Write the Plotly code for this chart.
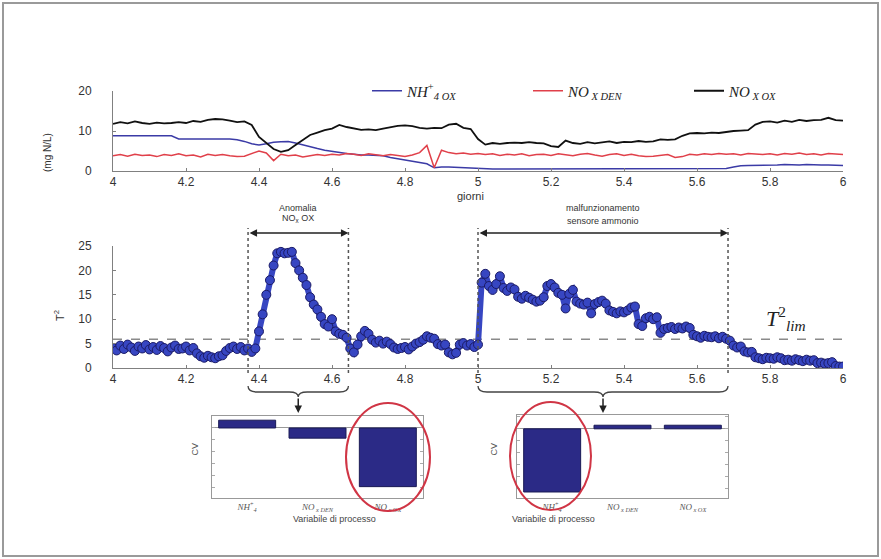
import plotly.graph_objects as go

W, H = 881, 559


def px(x):
    return x / W


def py(y):
    return 1 - y / H


# ---------------- data ----------------
DAYS = [round(4 + 0.02 * i, 2) for i in range(101)]

NOX_OX = [11.8, 12.2, 11.9, 12.4, 12.0, 11.8, 12.1, 11.9, 12.0, 12.2,
          12.0, 12.5, 12.3, 12.8, 13.0, 12.9, 12.6, 12.2, 12.4, 11.5,
          8.5, 7.0, 5.5, 4.8, 5.2, 6.5, 7.8, 9.0, 9.6, 10.2,
          10.6, 11.5, 11.0, 10.6, 10.3, 10.4, 10.2, 10.6, 11.0, 11.3,
          11.4, 11.2, 10.8, 10.6, 10.8, 10.7, 11.6, 11.8, 10.8, 10.5,
          8.0, 6.6, 7.0, 6.8, 7.0, 7.1, 7.0, 7.2, 7.0, 6.9,
          6.2, 6.0, 7.6, 7.0, 6.8, 7.2, 6.9, 7.1, 7.4, 7.0,
          7.3, 7.2, 7.5, 7.3, 7.4, 7.9, 7.8, 7.9, 8.8, 9.4,
          9.5, 9.4, 9.6, 9.5, 9.8, 10.0, 10.1, 10.2, 11.6, 12.3,
          12.4, 12.1, 12.6, 12.3, 12.8, 12.5, 12.7, 12.8, 13.3, 12.7,
          12.6]

NH4_OX = [8.8, 8.8, 8.8, 8.8, 8.8, 8.8, 8.8, 8.8, 8.8, 8.0,
          8.0, 8.0, 8.0, 8.0, 8.0, 8.0, 8.0, 7.8, 7.4, 6.8,
          6.5, 6.8, 7.2, 7.3, 7.4, 7.0, 6.5, 6.0, 5.6, 5.2,
          4.9, 4.7, 4.4, 4.2, 4.0, 4.0, 3.9, 3.8, 3.4, 3.1,
          2.8, 2.5, 2.2, 1.8, 0.8, 1.0, 1.0, 0.9, 0.8, 0.7,
          0.6, 0.6, 0.5, 0.5, 0.5, 0.5, 0.5, 0.5, 0.5, 0.5,
          0.5, 0.5, 0.5, 0.5, 0.5, 0.5, 0.5, 0.5, 0.5, 0.5,
          0.5, 0.5, 0.5, 0.5, 0.5, 0.5, 0.5, 0.5, 0.5, 0.5,
          0.5, 0.5, 0.5, 0.5, 0.6, 1.0, 1.3, 1.4, 1.4, 1.5,
          1.5, 1.5, 1.6, 1.5, 1.5, 1.6, 1.5, 1.5, 1.5, 1.4,
          1.4]

NOX_DEN = [3.8, 4.1, 3.7, 4.2, 3.9, 4.0, 3.6, 4.1, 3.9, 4.3,
           3.8, 4.0, 3.5, 4.2, 3.9, 4.1, 3.8, 3.6, 3.7, 4.3,
           5.0, 4.5, 2.6, 4.2, 3.8, 4.0, 3.5, 3.8, 4.1, 3.9,
           4.2, 4.0, 4.4, 4.2, 3.9, 4.3, 4.0, 3.8, 4.1, 3.9,
           3.6, 4.0, 4.6, 6.4, 0.8, 5.2, 4.6, 4.3, 4.5, 4.2,
           4.4, 4.1, 4.3, 3.9, 4.2, 4.0, 4.3, 3.8, 4.1, 4.2,
           3.9, 4.3, 4.0, 3.8, 4.2, 4.4, 4.0, 3.7, 4.1, 4.3,
           3.9, 4.2, 3.8, 3.6, 3.7, 3.9, 4.1, 3.4, 3.6, 4.2,
           4.0, 4.3, 4.1, 4.4, 4.2, 4.3, 4.0, 4.4, 4.2, 4.1,
           4.3, 4.0, 4.4, 4.2, 4.5, 4.1, 4.3, 4.0, 4.4, 4.2,
           4.1]

T2_DAYS = [round(4 + 0.01 * i, 2) for i in range(201)]
T2 = [4.1, 3.6, 4.6, 3.9, 4.8, 4.2, 3.5, 4.4, 4.0, 4.7, 3.8,
      4.3, 3.7, 4.5, 4.1, 3.4, 4.2, 4.6, 3.9, 4.0, 4.4, 3.6, 4.1,
      3.0, 2.4, 2.1, 2.5, 2.2, 2.0, 2.4, 2.6,
      3.5, 4.1, 4.4, 3.9, 4.3, 3.6, 4.0, 3.3,
      4.0, 7.5, 11.0, 15.0, 18.0, 21.0, 23.5, 23.8, 23.5, 23.6, 23.8,
      21.5, 20.0, 18.5, 17.0, 14.5, 13.0, 12.0, 10.5, 9.0, 8.5,
      10.0, 7.5, 7.0, 6.8, 6.2, 4.0, 3.2, 4.8, 6.5, 7.6, 7.0,
      5.8, 5.2, 5.6, 5.0, 5.4, 4.9,
      4.2, 3.9, 4.1, 4.3, 3.8, 4.4,
      5.0, 5.3, 5.8, 6.5, 6.2, 6.0,
      4.9, 4.6, 4.8, 3.2, 2.8, 3.1,
      4.8, 5.1, 4.6, 4.9, 4.3, 4.8,
      17.5, 19.3, 16.8, 16.0, 17.2, 18.8, 16.4, 15.8, 16.5, 16.1,
      14.6, 14.2, 14.8, 14.4, 14.0, 13.6, 13.8, 14.5, 16.8, 17.2,
      16.5, 15.4, 15.0, 12.2, 15.2, 16.0, 13.6, 13.2, 13.0, 13.4,
      11.2, 13.1, 13.5, 13.8, 13.2, 11.8, 11.5, 11.2, 11.6, 11.4,
      11.8, 12.4, 12.6, 9.0, 8.6, 10.2, 10.5, 10.0, 10.4, 7.2,
      8.0, 8.2, 8.4, 8.0, 8.3, 8.1, 8.5, 8.2, 6.8, 6.5,
      6.2, 6.6, 6.4, 6.3, 6.5, 6.1, 6.4, 6.0, 5.6, 4.6,
      4.2, 4.4, 3.4, 3.2, 3.3, 2.2, 2.0, 1.8, 2.1, 2.0,
      1.9, 2.2, 2.0, 1.6, 1.7, 1.5, 1.8, 1.6, 1.4, 1.7,
      1.5, 1.6, 1.0, 1.1, 0.9, 1.0, 1.2, 0.4, 0.3, 0.3]
T2_LIM = 5.9

X_TICKS = [4, 4.2, 4.4, 4.6, 4.8, 5, 5.2, 5.4, 5.6, 5.8, 6]
Y1_TICKS = [0, 10, 20]
Y2_TICKS = [0, 5, 10, 15, 20, 25]

ANOMALY_SPAN = [4.37, 4.645]
SENSOR_SPAN = [5.0, 5.685]

BAR_CATS = [0, 1, 2]
BAR_LABELS = ["<i>NH</i><sup>+</sup><sub><i>4</i></sub>",
              "<i>NO</i><sub><i> x DEN</i></sub>",
              "<i>NO</i><sub><i> x OX</i></sub>"]
CV_ANOMALY = [0.13, -0.17, -0.98]
CV_SENSOR = [-1.05, 0.06, 0.06]

# ---------------- figure ----------------
fig = go.Figure()

fig.add_trace(go.Scatter(x=DAYS, y=NH4_OX, mode="lines", xaxis="x", yaxis="y",
                         line=dict(color="#3b3ba6", width=1.5),
                         name="<i>NH</i><sup>+</sup><sub><i>4 OX</i></sub>"))
fig.add_trace(go.Scatter(x=DAYS, y=NOX_DEN, mode="lines", xaxis="x", yaxis="y",
                         line=dict(color="#e0404a", width=1.5),
                         name="<i>NO</i><sub><i> X DEN</i></sub>"))
fig.add_trace(go.Scatter(x=DAYS, y=NOX_OX, mode="lines", xaxis="x", yaxis="y",
                         line=dict(color="#111111", width=1.8),
                         name="<i>NO</i><sub><i> X OX</i></sub>"))

fig.add_trace(go.Scatter(x=T2_DAYS, y=T2, mode="lines+markers", xaxis="x2", yaxis="y2",
                         line=dict(color="#3746c2", width=6),
                         marker=dict(size=9, color="#3746c2",
                                     line=dict(color="#1b1b66", width=1)),
                         showlegend=False))

fig.add_trace(go.Bar(x=BAR_CATS, y=CV_ANOMALY, xaxis="x3", yaxis="y3", width=0.81,
                     marker=dict(color="#2b2a86", line=dict(color="#1a1a55", width=1)),
                     showlegend=False))
fig.add_trace(go.Bar(x=BAR_CATS, y=CV_SENSOR, xaxis="x4", yaxis="y4", width=0.81,
                     marker=dict(color="#2b2a86", line=dict(color="#1a1a55", width=1)),
                     showlegend=False))

axis_col = "#808080"
tick_font = dict(family="Arial", size=12, color="#333333")

common_x = dict(range=[4, 6], tickvals=X_TICKS, ticks="inside", ticklen=3,
                tickcolor=axis_col, showline=True, linecolor=axis_col, linewidth=1,
                showgrid=False, zeroline=False, tickfont=tick_font)
common_y = dict(ticks="inside", ticklen=3, tickcolor=axis_col, showline=True,
                linecolor=axis_col, linewidth=1, showgrid=False, zeroline=False,
                tickfont=tick_font, ticklabelstandoff=18)

bar_x = dict(range=[-0.5, 2.5], tickvals=BAR_CATS, ticktext=BAR_LABELS, ticks="",
             showline=True, mirror=True, linecolor="#999999", linewidth=1,
             showgrid=False, zeroline=False,
             tickfont=dict(family="Liberation Serif", size=9, color="#555555"))
bar_y = dict(showticklabels=False, ticks="inside", ticklen=3, tickcolor="#aaaaaa",
             dtick=0.2, showline=True, mirror="ticks", linecolor="#999999",
             linewidth=1, showgrid=False, zeroline=True, zerolinecolor="#999999",
             zerolinewidth=1)

fig.update_layout(
    width=W, height=H,
    margin=dict(l=0, r=0, t=0, b=0, autoexpand=False),
    paper_bgcolor="white", plot_bgcolor="white",
    xaxis=dict(domain=[px(113), px(843)], anchor="y", **common_x),
    yaxis=dict(domain=[py(171), py(91)], anchor="x", range=[0, 20],
               tickvals=Y1_TICKS, **common_y),
    xaxis2=dict(domain=[px(113), px(843)], anchor="y2", **common_x),
    yaxis2=dict(domain=[py(368), py(246)], anchor="x2", range=[0, 25],
                tickvals=Y2_TICKS, **common_y),
    xaxis3=dict(domain=[px(212), px(423)], anchor="y3", **bar_x),
    yaxis3=dict(domain=[py(498), py(416)], anchor="x3", range=[-1.17, 0.2], **bar_y),
    xaxis4=dict(domain=[px(517), px(728)], anchor="y4", **bar_x),
    yaxis4=dict(domain=[py(498), py(415)], anchor="x4", range=[-1.15, 0.23], **bar_y),
    showlegend=True,
    legend=dict(orientation="h", x=px(367), xanchor="left", y=py(91), yanchor="middle",
                entrywidth=116, entrywidthmode="pixels", bgcolor="rgba(0,0,0,0)",
                font=dict(family="Liberation Serif", size=15, color="#222222"),
                itemclick=False),
)

shapes = []
# outer frame
shapes.append(dict(type="rect", xref="paper", yref="paper", x0=px(3), x1=px(878),
                   y0=py(556), y1=py(3), line=dict(color="#9a9a9a", width=2)))
# limit line
shapes.append(dict(type="line", xref="x2", yref="y2", x0=4, x1=6, y0=T2_LIM, y1=T2_LIM,
                   line=dict(color="#8a8a8a", width=1.5, dash="dash"), layer="below"))
# dotted span boundaries
for d in ANOMALY_SPAN + SENSOR_SPAN:
    shapes.append(dict(type="line", xref="x2", yref="paper", x0=d, x1=d,
                       y0=py(373), y1=py(228),
                       line=dict(color="#555555", width=1.5, dash="dot")))


def xpix(d):
    return 113 + (d - 4) * 365


def brace(d0, d1, yt=386, ym=392, yb=397, q=9):
    x0, x1 = xpix(d0), xpix(d1)
    xc = (x0 + x1) / 2
    pts = [
        f"M {px(x0)},{py(yt)}",
        f"Q {px(x0)},{py(ym)} {px(x0 + q)},{py(ym)}",
        f"L {px(xc - q)},{py(ym)}",
        f"Q {px(xc)},{py(ym)} {px(xc)},{py(yb)}",
        f"Q {px(xc)},{py(ym)} {px(xc + q)},{py(ym)}",
        f"L {px(x1 - q)},{py(ym)}",
        f"Q {px(x1)},{py(ym)} {px(x1)},{py(yt)}",
    ]
    return dict(type="path", xref="paper", yref="paper", path=" ".join(pts),
                line=dict(color="#444444", width=1.3))


shapes.append(brace(*ANOMALY_SPAN))
shapes.append(brace(*SENSOR_SPAN))
# red ellipses
shapes.append(dict(type="circle", xref="paper", yref="paper", x0=px(346), x1=px(430),
                   y0=py(511), y1=py(403), line=dict(color="#d03545", width=2)))
shapes.append(dict(type="circle", xref="paper", yref="paper", x0=px(510), x1=px(591),
                   y0=py(510), y1=py(402), line=dict(color="#d03545", width=2)))
fig.update_layout(shapes=shapes)

ann = []
small = dict(family="Arial", size=9, color="#333333")
ann.append(dict(x=px(470), y=py(196), xref="paper", yref="paper", text="giorni",
                showarrow=False, font=dict(family="Arial", size=11, color="#333333")))
ann.append(dict(x=px(40), y=py(131), xref="paper", yref="paper", text="(mg N/L)",
                textangle=-90, showarrow=False,
                font=dict(family="Arial", size=10, color="#333333")))
ann.append(dict(x=px(50), y=py(316), xref="paper", yref="paper", text="T<sup>2</sup>",
                textangle=-90, showarrow=False,
                font=dict(family="Arial", size=11, color="#333333")))
ann.append(dict(x=(ANOMALY_SPAN[0] + ANOMALY_SPAN[1]) / 2, xref="x2", y=py(208),
                yref="paper", text="Anomalia", showarrow=False, font=small))
ann.append(dict(x=(ANOMALY_SPAN[0] + ANOMALY_SPAN[1]) / 2, xref="x2", y=py(218),
                yref="paper", text="NO<sub>x</sub> OX", showarrow=False, font=small))
ann.append(dict(x=(SENSOR_SPAN[0] + SENSOR_SPAN[1]) / 2, xref="x2", y=py(208),
                yref="paper", text="malfunzionamento", showarrow=False, font=small))
ann.append(dict(x=(SENSOR_SPAN[0] + SENSOR_SPAN[1]) / 2, xref="x2", y=py(221),
                yref="paper", text="sensore ammonio", showarrow=False, font=small))
# double arrows
for span in (ANOMALY_SPAN, SENSOR_SPAN):
    ann.append(dict(x=span[1], xref="x2", y=py(233), yref="paper",
                    ax=span[0], axref="x2", ay=0, ayref="pixel", text="",
                    showarrow=True, arrowhead=2, arrowside="end+start",
                    arrowsize=1, arrowwidth=1.5, arrowcolor="#222222"))
    # down arrows from braces to bar charts
    ann.append(dict(x=(span[0] + span[1]) / 2, xref="x2", y=py(413), yref="paper",
                    ax=0, ay=-16, text="", showarrow=True, arrowhead=2,
                    arrowsize=1, arrowwidth=1.5, arrowcolor="#222222"))
ann.append(dict(x=px(808), y=py(318), xref="paper", yref="paper",
                text="<i>T</i><sup>2</sup><sub><i>lim</i></sub>", showarrow=False,
                font=dict(family="Liberation Serif", size=22, color="#222222")))
for cx in (187, 493):
    ann.append(dict(x=px(cx), y=py(458), xref="paper", yref="paper", text="CV",
                    textangle=-90, showarrow=False,
                    font=dict(family="Arial", size=9, color="#555555")))
for cx in (291, 597):
    ann.append(dict(x=px(cx), y=py(526), xref="paper", yref="paper",
                    text="Variabile di processo", showarrow=False,
                    font=dict(family="Arial", size=9, color="#444444")))
fig.update_layout(annotations=ann)

fig.write_html("out.html", config={"displayModeBar": False},
               post_script="document.body.style.margin='0';"
                           "document.body.style.overflow='hidden';")
